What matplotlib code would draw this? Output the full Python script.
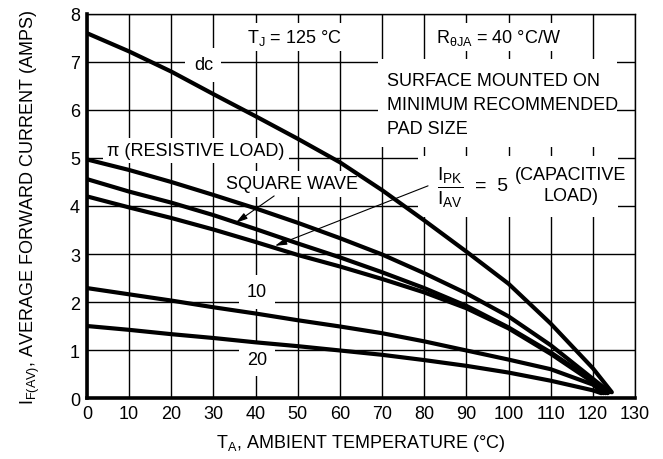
import matplotlib
matplotlib.use("Agg")
import matplotlib.pyplot as plt
from matplotlib.patches import Rectangle

plt.rcParams['font.family'] = ['Liberation Sans Narrow', 'Liberation Sans', 'DejaVu Sans']
plt.rcParams['mathtext.fontset'] = 'custom'
plt.rcParams['mathtext.rm'] = 'Liberation Sans'
plt.rcParams['mathtext.it'] = 'Liberation Sans'

# curve data (TA in deg C, IF(AV) in amps)
t_dc = [0, 10, 20, 30, 40, 50, 60, 70, 80, 90, 100, 110, 120, 124.5]
i_dc = [7.6, 7.22, 6.8, 6.33, 5.87, 5.4, 4.91, 4.33, 3.7, 3.05, 2.38, 1.55, 0.62, 0.12]

t_res = [0, 10, 20, 30, 40, 50, 60, 70, 80, 90, 100, 110, 120, 124]
i_res = [4.97, 4.75, 4.5, 4.23, 3.95, 3.65, 3.33, 2.99, 2.6, 2.18, 1.7, 1.1, 0.4, 0.12]

t_sq = [0, 10, 20, 30, 40, 50, 60, 70, 80, 90, 100, 110, 120, 123.5]
i_sq = [4.56, 4.3, 4.07, 3.81, 3.52, 3.22, 2.93, 2.62, 2.29, 1.92, 1.47, 0.95, 0.36, 0.1]

t_cap5 = [0, 10, 20, 30, 40, 50, 60, 70, 80, 90, 100, 110, 120, 123]
i_cap5 = [4.2, 3.97, 3.75, 3.51, 3.25, 2.98, 2.74, 2.48, 2.2, 1.87, 1.45, 0.92, 0.33, 0.1]

t_cap10 = [0, 10, 20, 30, 40, 50, 60, 70, 80, 90, 100, 110, 120, 122.5]
i_cap10 = [2.29, 2.16, 2.03, 1.89, 1.76, 1.62, 1.49, 1.35, 1.18, 0.99, 0.8, 0.6, 0.28, 0.1]

t_cap20 = [0, 10, 20, 30, 40, 50, 60, 70, 80, 90, 100, 110, 120, 122]
i_cap20 = [1.5, 1.42, 1.33, 1.25, 1.16, 1.08, 0.99, 0.9, 0.79, 0.67, 0.53, 0.36, 0.16, 0.1]

x_ticks = list(range(0, 131, 10))
y_ticks = list(range(0, 9))

fig = plt.figure(figsize=(6.63, 4.6), dpi=100)
ax = fig.add_axes([0.1312, 0.1326, 0.8266, 0.8348])

for t, i in [(t_dc, i_dc), (t_res, i_res), (t_sq, i_sq),
             (t_cap5, i_cap5), (t_cap10, i_cap10), (t_cap20, i_cap20)]:
    ax.plot(t, i, color='black', lw=3.0, zorder=3, solid_capstyle='round', solid_joinstyle='round')

ax.set_xlim(0, 130)
ax.set_ylim(0, 8)
ax.set_xticks(x_ticks)
ax.set_yticks(y_ticks)
ax.grid(True, color='black', lw=1.0)
ax.set_axisbelow(True)
ax.tick_params(length=0, labelsize=13, pad=5)
ax.spines['left'].set_linewidth(2.6)
ax.spines['bottom'].set_linewidth(2.6)
ax.spines['top'].set_linewidth(1.0)
ax.spines['right'].set_linewidth(1.0)

ax.set_xlabel(r"T$_\mathregular{A}$, AMBIENT TEMPERATURE (°C)", fontsize=13, labelpad=7)
ax.set_ylabel(r"I$_\mathregular{F(AV)}$, AVERAGE FORWARD CURRENT (AMPS)", fontsize=13, labelpad=20)

box = dict(facecolor='white', edgecolor='none', pad=3)
fs = 13
lz = 2.5  # labels sit above the grid but under the curves

# white backing behind the note blocks (hides the grid like the original)
ax.add_patch(Rectangle((69.0, 5.23), 56.8, 1.83, facecolor='white', edgecolor='none', zorder=2))
ax.add_patch(Rectangle((78.5, 3.78), 47.5, 1.27, facecolor='white', edgecolor='none', zorder=2))

ax.text(49.3, 7.52, r"T$_\mathregular{J}$ = 125 °C", fontsize=fs, ha='center', va='center', bbox=box, zorder=lz)
ax.text(97.6, 7.52, r"R$_\mathregular{\theta JA}$ = 40 °C/W", fontsize=fs, ha='center', va='center', bbox=box, zorder=lz)
ax.text(71.2, 6.12, "SURFACE MOUNTED ON\nMINIMUM RECOMMENDED\nPAD SIZE", fontsize=fs,
        ha='left', va='center', linespacing=1.55, zorder=lz)
ax.text(27.6, 6.94, "dc", fontsize=fs, ha='center', va='center',
        bbox=dict(facecolor='white', edgecolor='none', pad=6), zorder=lz)
ax.text(25.9, 5.15, "π (RESISTIVE LOAD)", fontsize=fs, ha='center', va='center', bbox=box, zorder=lz)
ax.text(48.7, 4.46, "SQUARE WAVE", fontsize=fs, ha='center', va='center', bbox=box, zorder=lz)
ax.text(40.3, 2.21, "10", fontsize=fs, ha='center', va='center',
        bbox=dict(facecolor='white', edgecolor='none', pad=6), zorder=lz)
ax.text(40.3, 0.81, "20", fontsize=fs, ha='center', va='center',
        bbox=dict(facecolor='white', edgecolor='none', pad=6), zorder=lz)

# IPK / IAV = 5 (CAPACITIVE LOAD)
ax.text(86.1, 4.66, r"I$_\mathregular{PK}$", fontsize=14, ha='center', va='center', zorder=lz)
ax.text(86.1, 4.2, r"$\overline{\mathregular{I_{AV}}}$", fontsize=14, ha='center', va='center', zorder=lz)
ax.text(95.9, 4.42, "=  5", fontsize=14, ha='center', va='center', zorder=lz)
ax.text(114.8, 4.43, "(CAPACITIVE\nLOAD)", fontsize=fs, ha='center', va='center', linespacing=1.3, zorder=lz)

arrow = dict(arrowstyle='-|>,head_length=0.7,head_width=0.2', color='black', lw=0.8, shrinkA=0, shrinkB=0)
ax.annotate("", xy=(35.3, 3.65), xytext=(44.4, 4.21), arrowprops=arrow, zorder=6)
ax.annotate("", xy=(44.6, 3.17), xytext=(80.9, 4.42), arrowprops=arrow, zorder=6)

fig.savefig("out.png", dpi=100)
